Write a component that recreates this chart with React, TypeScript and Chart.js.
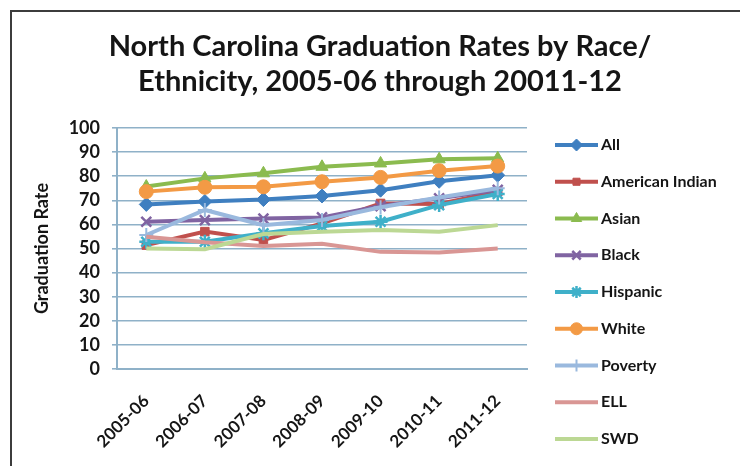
import React, { useEffect, useRef } from 'react';
import { Chart, registerables } from 'chart.js';
import { drawPoint } from 'chart.js/helpers';

Chart.register(...registerables);

const categories = ['2005-06', '2006-07', '2007-08', '2008-09', '2009-10', '2010-11', '2011-12'];

const allRates = [68.3, 69.5, 70.3, 71.8, 74.2, 77.9, 80.4];
const americanIndianRates = [51.4, 57.0, 53.5, 60.4, 68.7, 68.5, 73.6];
const asianRates = [75.7, 79.1, 81.2, 83.9, 85.3, 87.0, 87.4];
const blackRates = [61.1, 61.8, 62.4, 62.9, 67.6, 70.8, 74.3];
const hispanicRates = [52.8, 52.8, 56.3, 59.3, 61.1, 68.0, 72.6];
const whiteRates = [73.6, 75.4, 75.6, 77.7, 79.5, 82.3, 84.2];
const povertyRates = [55.6, 66.0, 59.7, 61.8, 67.1, 71.2, 75.0];
const ellRates = [54.9, 52.6, 51.0, 52.0, 48.6, 48.3, 50.0];
const swdRates = [50.0, 49.7, 56.0, 57.0, 57.7, 57.0, 59.7];

const seriesNames = ['All', 'American Indian', 'Asian', 'Black', 'Hispanic', 'White', 'Poverty', 'ELL', 'SWD'];

const titleLines = ['North Carolina Graduation Rates by Race/', 'Ethnicity, 2005-06 through 20011-12'];
const yAxisTitle = 'Graduation Rate';

const FONT = 'Lato';
const GRID = '#8fb1c8';
const TEXT = '#151515';

const seriesStyles = [
  { color: '#3f7fc0', pointStyle: 'rectRot', radius: 7, bw: 1 },
  { color: '#c0504d', pointStyle: 'rect', radius: 6, bw: 1 },
  { color: '#8bbb4f', pointStyle: 'triangle', radius: 7, bw: 1 },
  { color: '#8064a2', pointStyle: 'crossRot', radius: 7, bw: 2.5 },
  { color: '#3fb0c9', pointStyle: 'star', radius: 7, bw: 2.5 },
  { color: '#f39a45', pointStyle: 'circle', radius: 7, bw: 1 },
  { color: '#9ab9de', pointStyle: 'cross', radius: 7, bw: 2 },
  { color: '#d99694', pointStyle: false, radius: 0, bw: 0 },
  { color: '#bcd894', pointStyle: false, radius: 0, bw: 0 },
];

const seriesValues = [
  allRates,
  americanIndianRates,
  asianRates,
  blackRates,
  hispanicRates,
  whiteRates,
  povertyRates,
  ellRates,
  swdRates,
];

const framePlugin = {
  id: 'frame',
  beforeDraw(chart: any) {
    const ctx = chart.ctx;
    ctx.save();
    ctx.fillStyle = '#ffffff';
    ctx.fillRect(0, 0, chart.width, chart.height);
    ctx.strokeStyle = '#3c3c3c';
    ctx.lineWidth = 2;
    ctx.beginPath();
    ctx.moveTo(11, chart.height);
    ctx.lineTo(11, 11);
    ctx.lineTo(chart.width, 11);
    ctx.stroke();
    ctx.restore();
  },
};

const sideLegendPlugin = {
  id: 'sideLegend',
  afterDraw(chart: any) {
    const ctx = chart.ctx;
    const area = chart.scales.legendSpace;
    const x0 = area.left + 28;
    const lineLen = 43;
    const startY = 145;
    const step = 36.75;
    ctx.save();
    chart.data.datasets.forEach((ds: any, i: number) => {
      const y = startY + i * step;
      const st = seriesStyles[i];
      ctx.strokeStyle = ds.borderColor;
      ctx.lineWidth = 4;
      ctx.beginPath();
      ctx.moveTo(x0, y);
      ctx.lineTo(x0 + lineLen, y);
      ctx.stroke();
      if (st.pointStyle) {
        ctx.fillStyle = ds.borderColor;
        ctx.strokeStyle = ds.borderColor;
        ctx.lineWidth = st.bw;
        drawPoint(ctx, { pointStyle: st.pointStyle, radius: st.radius - 1, rotation: 0, borderWidth: st.bw }, x0 + lineLen / 2, y);
      }
      ctx.fillStyle = TEXT;
      ctx.font = `bold 16px ${FONT}`;
      ctx.textAlign = 'left';
      ctx.textBaseline = 'middle';
      ctx.fillText(ds.label, x0 + lineLen + 3, y);
    });
    ctx.restore();
  },
};

export default function App() {
  const ref = useRef<HTMLCanvasElement | null>(null);

  useEffect(() => {
    if (!ref.current) return;
    const datasets = seriesNames.map((name, i) => ({
      label: name,
      data: seriesValues[i],
      borderColor: seriesStyles[i].color,
      backgroundColor: seriesStyles[i].color,
      pointBackgroundColor: seriesStyles[i].color,
      pointBorderColor: seriesStyles[i].color,
      pointStyle: seriesStyles[i].pointStyle,
      pointRadius: seriesStyles[i].radius,
      pointBorderWidth: seriesStyles[i].bw,
      borderWidth: 4,
      tension: 0,
      fill: false,
      order: seriesNames.length - i,
    }));

    const chart = new Chart(ref.current, {
      type: 'line',
      data: { labels: categories, datasets },
      plugins: [framePlugin, sideLegendPlugin],
      options: {
        responsive: false,
        animation: false,
        layout: { padding: { left: 20, right: 0, top: 0, bottom: 0 } },
        plugins: {
          legend: { display: false },
          tooltip: { enabled: false },
          title: {
            display: true,
            text: titleLines,
            color: TEXT,
            font: { family: FONT, size: 29, weight: 'bold', lineHeight: 35 / 29 },
            padding: { top: 29, bottom: 29 },
          },
        },
        scales: {
          x: {
            type: 'category',
            offset: true,
            grid: { display: false },
            border: { display: true, color: GRID, width: 2 },
            ticks: {
              minRotation: 45,
              maxRotation: 45,
              color: TEXT,
              padding: 14,
              font: { family: FONT, size: 17, weight: 'bold' },
            },
            afterFit: (s: any) => {
              s.height = 97;
            },
          },
          y: {
            min: 0,
            max: 100,
            ticks: {
              stepSize: 10,
              autoSkip: false,
              color: TEXT,
              padding: 12,
              font: { family: FONT, size: 18, weight: 'bold' },
            },
            grid: { color: GRID, lineWidth: 1.6, tickLength: 5, drawTicks: true },
            border: { display: true, color: GRID, width: 2 },
            title: {
              display: true,
              text: yAxisTitle,
              color: TEXT,
              font: { family: FONT, size: 18, weight: 'bold' },
              padding: { top: 11, bottom: 0 },
            },
            afterFit: (s: any) => {
              s.width = 97;
            },
          },
          legendSpace: {
            type: 'linear',
            position: 'right',
            display: true,
            grid: { display: false },
            border: { display: false },
            ticks: { display: false },
            afterFit: (s: any) => {
              s.width = 213;
            },
          },
        },
      },
    } as any);
    return () => chart.destroy();
  }, []);

  return (
    <div style={{ position: 'absolute', left: 0, top: 0, width: 740, height: 466 }}>
      <canvas ref={ref} width={740} height={466} style={{ display: 'block' }} />
    </div>
  );
}
